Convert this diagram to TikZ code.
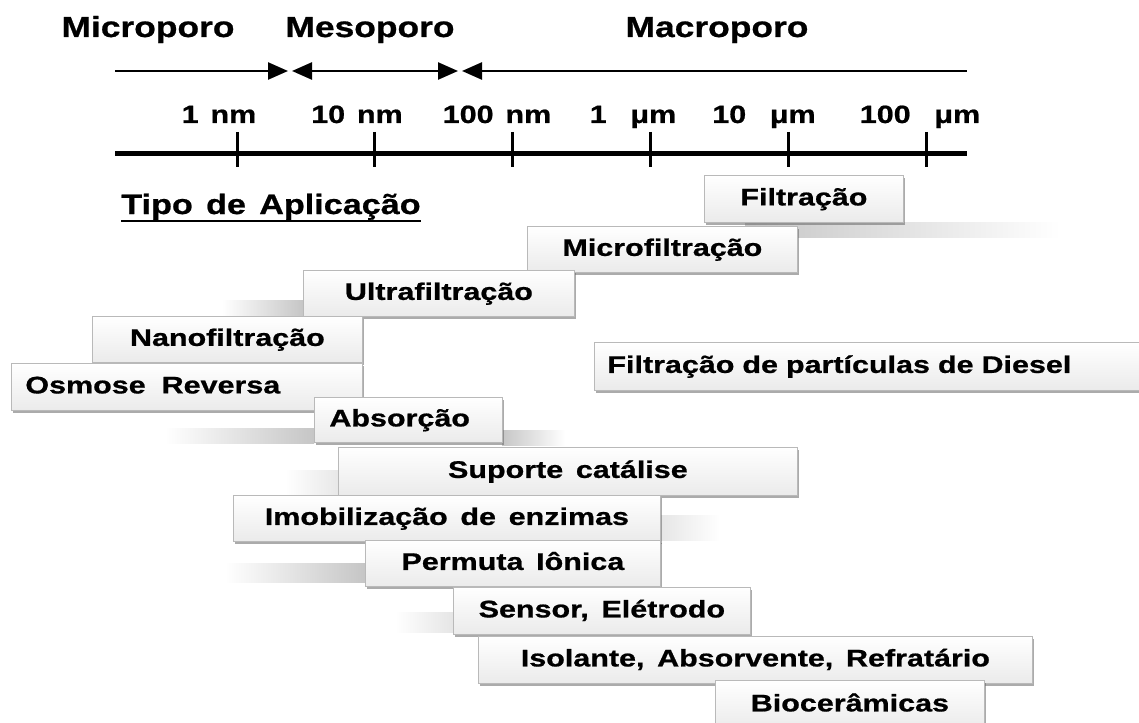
\documentclass[tikz,border=0pt]{standalone}
\usepackage{fontspec}
\setmainfont{Liberation Sans}[FakeStretch=1.22,WordSpace=1.4,FakeBold=0.8]
\newfontfamily\boxfont{Liberation Sans}[FakeStretch=1.27,WordSpace=1.5,FakeBold=0.8]
\usetikzlibrary{arrows.meta,shadows}

\tikzset{
  appbox/.style={draw=gray!55, line width=0.8pt, top color=white, bottom color=gray!16,
    drop shadow={shadow xshift=1.2pt, shadow yshift=-2.2pt, opacity=0.55, fill=gray!80!black},
    inner sep=0pt, anchor=north west, text height=17pt, text depth=4pt,
    font=\boxfont\bfseries\fontsize{24}{28}\selectfont},
  lefttext/.style={align=left, inner xsep=#1},
  fadel/.style={left color=white, right color=gray!45, draw=none},
  fader/.style={left color=gray!45, right color=white, draw=none},
  porelabel/.style={anchor=base, inner sep=0pt, font=\bfseries\fontsize{29}{34}\selectfont},
  scalelabel/.style={anchor=base, inner sep=0pt, font=\bfseries\fontsize{25}{30}\selectfont}
}

\begin{document}
\begin{tikzpicture}[x=1pt, y=-1pt, >={Triangle[length=20pt,width=17pt]}]
\fill[white] (0,0) rectangle (1139,722);
\useasboundingbox (0,0) rectangle (1139,722);

% pore classes
\node[porelabel] (micro) at (148,37) {Microporo};
\node[porelabel] (meso)  at (370,37) {Mesoporo};
\node[porelabel] (macro) at (717,37) {Macroporo};

\coordinate (m0) at (115,71);  \coordinate (m1) at (288,71);
\coordinate (s0) at (292,71);  \coordinate (s1) at (458,71);
\coordinate (c0) at (462,71);  \coordinate (c1) at (967,71);
\draw[line width=2.5pt, ->]  (m0) -- (m1);
\draw[line width=2.5pt, <->] (s0) -- (s1);
\draw[line width=2.5pt, <-]  (c0) -- (c1);

% size scale
\coordinate (a0) at (115,154); \coordinate (a1) at (967,154);
\draw[line width=5pt] (a0) -- (a1);
\foreach \x in {237,374,512,650,788,926}
  \draw[line width=3pt] (\x,132) -- (\x,167);
\foreach \x/\t [count=\i] in {219/1 nm, 357/10 nm, 497/100 nm,
    633/1\ \ μm, 764/10\ \ μm, 920/100\ \ μm}
  \node[scalelabel] (size\i) at (\x,123) {\t};

\node[anchor=base, inner sep=0pt, font=\bfseries\fontsize{28}{33}\selectfont]
  (tipo) at (271,214) {Tipo de Aplicação};
\draw[line width=2.5pt] ([yshift=-7pt]tipo.base west) -- ([yshift=-7pt]tipo.base east);

% soft shadows behind the boxes
\shade[fader] (745,222) rectangle (1060,237);
\shade[fadel] (222,300) rectangle (303,315);
\shade[left color=white, middle color=gray!50, right color=white] (670,390) rectangle (830,400);
\shade[fadel] (165,428) rectangle (314,443);
\shade[fader] (502,430) rectangle (565,445);
\shade[left color=white, right color=gray!18] (285,470) rectangle (338,495);
\shade[left color=gray!20, right color=white] (660,515) rectangle (720,540);
\shade[fadel] (225,563) rectangle (365,582);
\shade[left color=white, right color=gray!20] (395,612) rectangle (453,632);

% application ranges
\node[appbox, minimum width=199pt, minimum height=47pt] (filt)    at (704,175) {Filtração};
\node[appbox, minimum width=270pt, minimum height=46pt] (mfilt)   at (527,226) {Microfiltração};
\node[appbox, minimum width=271pt, minimum height=46pt] (ufilt)   at (303,270) {Ultrafiltração};
\node[appbox, minimum width=270pt, minimum height=46pt] (nfilt)   at (92,316)  {Nanofiltração};
\node[appbox, lefttext=13pt, text width=530pt, minimum height=48pt] (diesel) at (594,342)
  {Filtração de partículas de Diesel};
\node[appbox, lefttext=14pt, text width=323pt, minimum height=47pt] (osmose) at (11,363)
  {Osmose\ \ Reversa};
\node[appbox, lefttext=15pt, text width=158pt, minimum height=45pt] (absor)  at (314,397)
  {Absorção};
\node[appbox, minimum width=459pt, minimum height=48pt] (suporte) at (338,447) {Suporte catálise};
\node[appbox, minimum width=427pt, minimum height=46pt] (imob)    at (233,495) {Imobilização de enzimas};
\node[appbox, minimum width=295pt, minimum height=46pt] (permuta) at (365,540) {Permuta Iônica};
\node[appbox, minimum width=297pt, minimum height=47pt] (sensor)  at (453,587) {Sensor, Elétrodo};
\node[appbox, minimum width=554pt, minimum height=47pt] (isol)    at (478,636) {Isolante, Absorvente, Refratário};
\node[appbox, minimum width=269pt, minimum height=49pt] (bio)     at (715,680) {Biocerâmicas};

\end{tikzpicture}
\end{document}
